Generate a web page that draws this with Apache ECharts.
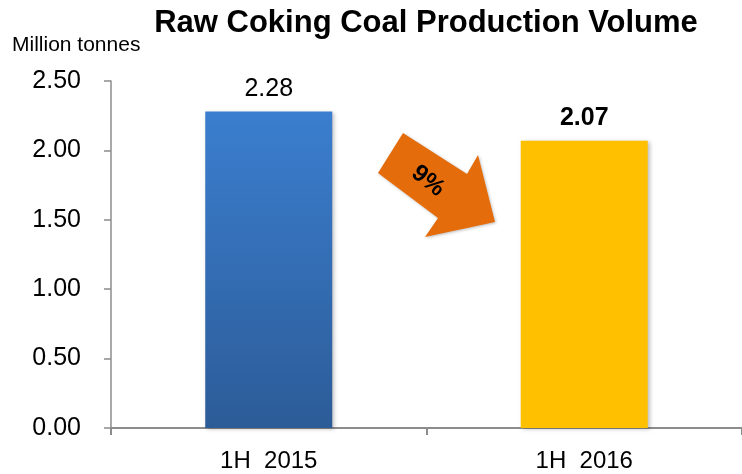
<!DOCTYPE html>
<html><head><meta charset="utf-8">
<script src="https://cdn.jsdelivr.net/npm/echarts@6/dist/echarts.min.js"></script>
<style>html,body{margin:0;padding:0;background:#fff}#c{width:742px;height:474px}</style>
</head><body><div id="c"></div>
<script>
const categories = ['1H  2015', '1H  2016'];
const values = [2.28, 2.07];
const yTicks = [0, 0.5, 1.0, 1.5, 2.0, 2.5];
const changeLabel = '9%';

const chart = echarts.init(document.getElementById('c'));
const FONT = '"Liberation Sans", Arial, sans-serif';
chart.setOption({
  animation: false,
  title: {
    text: 'Raw Coking Coal Production Volume',
    left: 421, top: 3, textAlign: 'center',
    textStyle: { fontFamily: FONT, fontSize: 31, fontWeight: 'bold', color: '#000' }
  },
  graphic: [
    { type: 'text', left: 12, top: 35, style: { text: 'Million tonnes', font: '21px ' + FONT, fill: '#000' } },
    { type: 'polygon', z: 10,
      shape: { points: [[403,133],[467,174],[478,155],[495,222],[425,237],[438,218],[378,173]] },
      style: { fill: '#E46C0A', shadowBlur: 3, shadowColor: 'rgba(0,0,0,0.25)', shadowOffsetX: 1, shadowOffsetY: 1 } },
    { type: 'text', z: 11, x: 428, y: 181, rotation: -0.68,
      style: { text: changeLabel, font: 'bold 24px ' + FONT, fill: '#000', align: 'center', verticalAlign: 'middle' } }
  ],
  grid: { left: 111, right: -3, top: 81, bottom: 46, containLabel: false },
  xAxis: {
    type: 'category', data: categories,
    axisLine: { lineStyle: { color: '#8c8c8c', width: 2 } },
    axisTick: { show: true, alignWithLabel: false, length: 7, lineStyle: { color: '#8c8c8c', width: 2 } },
    axisLabel: { fontFamily: FONT, fontSize: 24, color: '#000', margin: 21 }
  },
  yAxis: {
    type: 'value', min: 0, max: 2.5, interval: 0.5,
    splitLine: { show: false },
    axisLine: { show: true, lineStyle: { color: '#8c8c8c', width: 1.5 } },
    axisTick: { show: true, length: 7, lineStyle: { color: '#8c8c8c', width: 1.5 } },
    axisLabel: { fontFamily: FONT, fontSize: 25, color: '#000', margin: 30,
      formatter: v => yTicks.includes(v) ? v.toFixed(2) : '' }
  },
  series: [{
    type: 'bar', barWidth: 127,
    data: values.map((v, i) => ({
      value: v,
      itemStyle: i === 0 ? {
        color: new echarts.graphic.LinearGradient(0, 0, 0, 1, [
          { offset: 0, color: '#3B7ECF' }, { offset: 1, color: '#2C5C98' }
        ])
      } : { color: '#FFC000' },
      label: { show: true, position: 'top', distance: 10,
        fontFamily: FONT, fontSize: 25, color: '#000', fontWeight: i === 1 ? 'bold' : 'normal',
        formatter: p => p.value.toFixed(2) }
    })),
    itemStyle: { shadowBlur: 4, shadowColor: 'rgba(0,0,0,0.25)', shadowOffsetX: 2, shadowOffsetY: 1 }
  }]
});
</script></body></html>
